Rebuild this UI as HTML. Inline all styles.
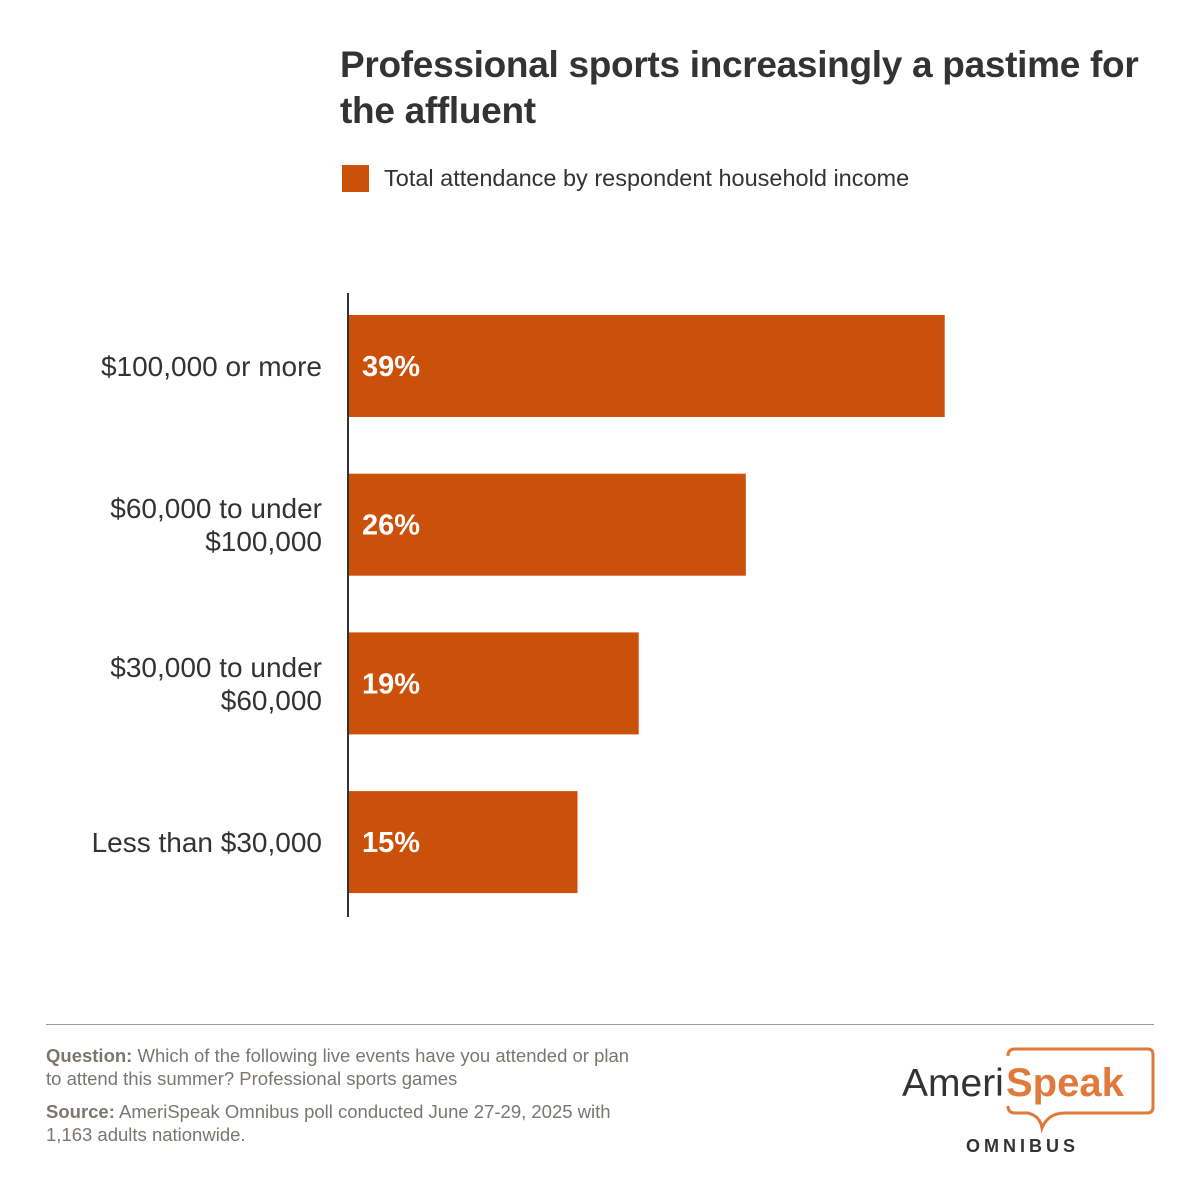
<!DOCTYPE html>
<html><head><meta charset="utf-8"><style>
body{margin:0;width:1200px;height:1200px;background:#fff;font-family:"Liberation Sans",sans-serif;position:relative;overflow:hidden}
.t{position:absolute;color:#333}
</style></head><body>
<div class="t" style="left:340px;top:42px;font-size:37px;font-weight:bold;line-height:46px;width:840px;color:#333;letter-spacing:-0.3px">Professional sports increasingly a pastime for the affluent</div>
<div style="position:absolute;left:342px;top:165px;width:27px;height:27px;background:#cb500a"></div>
<div class="t" style="left:384px;top:165px;font-size:23.5px">Total attendance by respondent household income</div>
<svg id="chart" width="1200" height="1000" style="position:absolute;left:0;top:0"></svg>
<div style="position:absolute;left:46px;top:1024px;width:1108px;height:1px;background:#999"></div>
<div class="t" style="left:46px;top:1044px;font-size:18.5px;line-height:23px;color:#7a7672;width:592px"><b>Question:</b> Which of the following live events have you attended or plan to attend this summer? Professional sports games</div>
<div class="t" style="left:46px;top:1100px;font-size:18.5px;line-height:23px;color:#7a7672;width:592px"><b>Source:</b> AmeriSpeak Omnibus poll conducted June 27-29, 2025 with 1,163 adults nationwide.</div>
<svg width="280" height="120" style="position:absolute;left:890px;top:1040px">
<path d="M118 16 Q118 9 125 9 L258 9 Q263 9 263 15 L263 67 Q263 73 257 73 L175 73 Q158 73 152 88 Q150 76 138 73 L125 73 Q118 73 118 66" fill="none" stroke="#e07a3c" stroke-width="3"/>
<text x="12" y="56" font-family="Liberation Sans,sans-serif" font-size="39" fill="#333">Ameri</text>
<text x="116" y="56" font-family="Liberation Sans,sans-serif" font-size="40" fill="#e07a3c" font-weight="bold">Speak</text>
<text x="76" y="112" font-family="Liberation Sans,sans-serif" font-size="18" font-weight="bold" fill="#333" letter-spacing="4">OMNIBUS</text>
</svg>
<script>
const categories=[["$100,000 or more"],["$60,000 to under","$100,000"],["$30,000 to under","$60,000"],["Less than $30,000"]];
const values=[39,26,19,15];
const svg=document.getElementById('chart');const NS='http://www.w3.org/2000/svg';
const x0=348,scale=15.3,top0=315,pitch=158.7,bh=102;
const xs=v=>x0+v*scale;
values.forEach((v,i)=>{
 const y=top0+i*pitch;
 const r=document.createElementNS(NS,'rect');
 r.setAttribute('x',x0);r.setAttribute('y',y);r.setAttribute('width',xs(v)-x0);r.setAttribute('height',bh);r.setAttribute('fill','#cb500a');
 
 
 svg.appendChild(r);
 const t=document.createElementNS(NS,'text');
 t.setAttribute('x',362);t.setAttribute('y',y+bh/2+10);t.setAttribute('fill','#fff');t.setAttribute('font-size','29');t.setAttribute('font-weight','bold');t.textContent=v+'%';
 
 
 svg.appendChild(t);
 const lines=categories[i];
 lines.forEach((ln,j)=>{
  const c=document.createElementNS(NS,'text');
  c.setAttribute('x',322);c.setAttribute('text-anchor','end');c.setAttribute('font-size','28');c.setAttribute('fill','#333');
  c.setAttribute('y',y+bh/2+10+(j-(lines.length-1)/2)*33);
  c.textContent=ln;
  
  
  svg.appendChild(c);
 });
});
const ax=document.createElementNS(NS,'line');
ax.setAttribute('x1',348);ax.setAttribute('x2',348);ax.setAttribute('y1',293);ax.setAttribute('y2',917);ax.setAttribute('stroke','#333');ax.setAttribute('stroke-width','2');


svg.appendChild(ax);
</script>
</body></html>
